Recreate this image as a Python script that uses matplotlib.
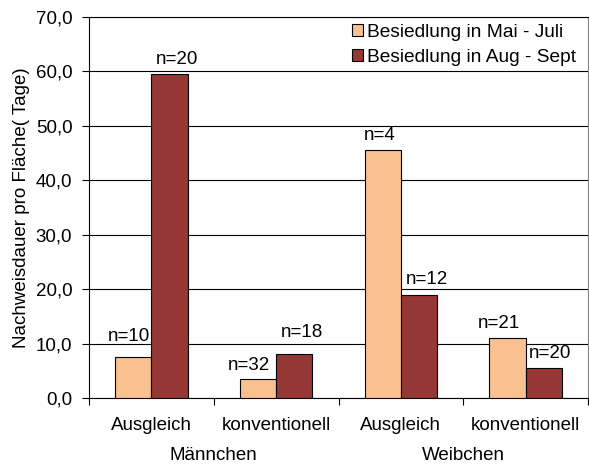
import matplotlib
matplotlib.use("Agg")
import matplotlib.pyplot as plt
import matplotlib.transforms as mtransforms
import numpy as np

plt.rcParams["font.family"] = ["Liberation Sans", "DejaVu Sans"]

categories = ["Ausgleich", "konventionell", "Ausgleich", "konventionell"]
groups = ["Männchen", "Weibchen"]
series_names = ["Besiedlung in Mai - Juli", "Besiedlung in Aug - Sept"]
mai_juli = [7.5, 3.4, 45.5, 11.0]
aug_sept = [59.5, 8.0, 18.9, 5.5]
n_mai_juli = ["n=10", "n=32", "n=4", "n=21"]
n_aug_sept = ["n=20", "n=18", "n=12", "n=20"]

# label nudges in pixels (the original labels were placed by hand)
dx_mai = [-4, -9, -3, -9]
dy_mai = [21, 14, 15, 15]
dx_aug = [8, 8, 8, 6]
dy_aug = [15, 22, 16, 15]

col_mai = "#F9C18F"
col_aug = "#953735"
fs = 13.5

fig = plt.figure(figsize=(5.89, 4.67), dpi=100)
ax = fig.add_axes([89 / 589, 1 - 398 / 467, 499 / 589, 381 / 467])

x = np.arange(len(categories))
w = 0.29
b1 = ax.bar(x - w / 2, mai_juli, w, color=col_mai, edgecolor="black", linewidth=0.8,
            label=series_names[0], zorder=3)
b2 = ax.bar(x + w / 2, aug_sept, w, color=col_aug, edgecolor="black", linewidth=0.8,
            label=series_names[1], zorder=3)

for bars, labels, dxs, dys in [(b1, n_mai_juli, dx_mai, dy_mai), (b2, n_aug_sept, dx_aug, dy_aug)]:
    for rect, lab, dx, dy in zip(bars, labels, dxs, dys):
        ax.annotate(lab, (rect.get_x() + rect.get_width() / 2, rect.get_height()),
                    xytext=(dx, dy), textcoords="offset pixels",
                    ha="center", va="center", fontsize=fs)

ax.set_ylim(0, 70)
ax.set_xlim(-0.5, len(categories) - 0.5)
ax.set_yticks(np.arange(0, 71, 10))
ax.set_yticklabels([f"{v:.1f}".replace(".", ",") for v in np.arange(0, 71, 10)], fontsize=fs)
ax.yaxis.grid(True, color="black", linewidth=0.8, zorder=0)
ax.set_axisbelow(True)

ax.set_xticks(np.arange(-0.5, len(categories), 1.0))
ax.set_xticklabels([])
ax.set_xticks(x, minor=True)
ax.set_xticklabels(categories, minor=True, fontsize=fs)
ax.tick_params(axis="x", which="minor", length=0, pad=14)
ax.tick_params(axis="x", which="major", length=5, width=0.8, direction="out")
ax.tick_params(axis="y", length=5, width=0.8, direction="out", pad=7)

for s in ax.spines.values():
    s.set_linewidth(0.8)
    s.set_color("black")
ax.spines["right"].set_color("#808080")

trans = mtransforms.blended_transform_factory(ax.transData, ax.transAxes)
for i, g in enumerate(groups):
    ax.text(2 * i + 0.5, -0.152, g, transform=trans, ha="center", va="center", fontsize=fs)

ax.set_ylabel("Nachweisdauer pro Fläche( Tage)", fontsize=fs, labelpad=4)

leg = ax.legend(loc="upper right", bbox_to_anchor=(1 - 8 / 499, 1 - 3 / 381), fontsize=13.8,
                frameon=False, handlelength=0.6, handleheight=0.6, handletextpad=0.2,
                labelspacing=0.42, borderpad=0.2, borderaxespad=0.0)
for h in leg.legend_handles:
    h.set_linewidth(0.8)

fig.savefig("out.png", dpi=100)
